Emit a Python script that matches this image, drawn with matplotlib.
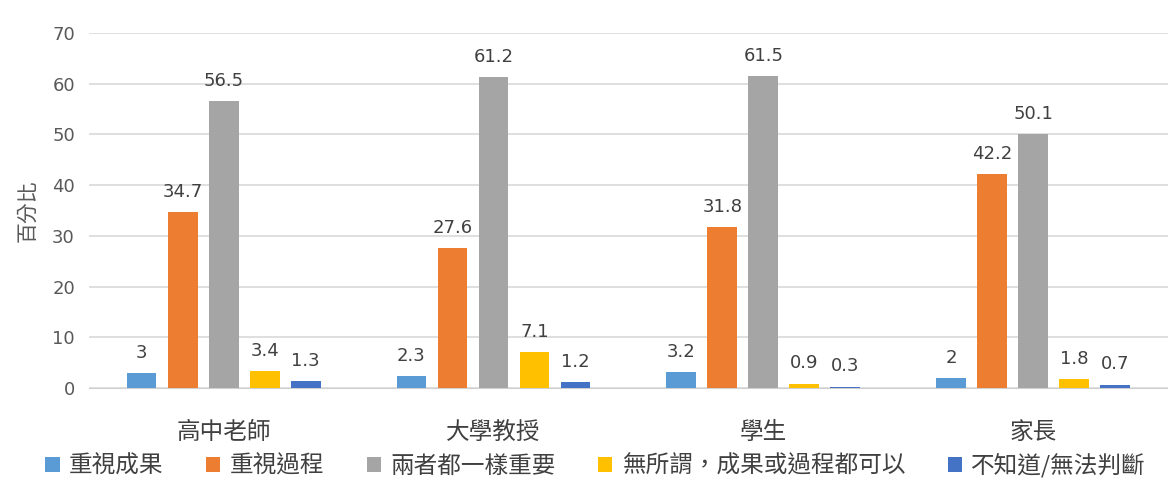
import numpy as np
import matplotlib
matplotlib.use('Agg')
import matplotlib.pyplot as plt

plt.rcParams['font.family'] = ['DejaVu Sans', 'Noto Sans CJK TC']

groups = ['高中老師', '大學教授', '學生', '家長']
series = ['重視成果', '重視過程', '兩者都一樣重要', '無所謂，成果或過程都可以', '不知道/無法判斷']
values = [
    [3, 2.3, 3.2, 2],
    [34.7, 27.6, 31.8, 42.2],
    [56.5, 61.2, 61.5, 50.1],
    [3.4, 7.1, 0.9, 1.8],
    [1.3, 1.2, 0.3, 0.7],
]
colors = ['#5B9BD5', '#ED7D31', '#A5A5A5', '#FFC000', '#4472C4']
cjk = ['Noto Sans CJK TC', 'DejaVu Sans']

fig = plt.figure(figsize=(11.68, 4.9), dpi=100, facecolor='w')
ax = fig.add_axes([0.076, 0.208, 0.924, 0.725])

x = np.arange(len(groups))
pitch = 0.152
width = 0.11
for i, (name, vals, c) in enumerate(zip(series, values, colors)):
    pos = x + (i - 2) * pitch
    ax.bar(pos, vals, width=width, color=c, label=name, zorder=3)
    for p, v in zip(pos, vals):
        ax.text(p, v + 2.2, ('%g' % v), ha='center', va='bottom', fontsize=13, color='#404040')

ax.set_xlim(-0.5, len(groups) - 0.5)
ax.set_ylim(0, 70)
ax.set_yticks(range(0, 71, 10))
ax.tick_params(axis='y', length=0, labelsize=13, labelcolor='#595959', pad=10)
ax.tick_params(axis='x', length=0, pad=24)
ax.set_xticks(x)
ax.set_xticklabels(groups, fontsize=17, color='#404040', family=cjk)
ax.grid(axis='y', color='#D9D9D9', linewidth=1.2, zorder=0)
for s in ['top', 'right', 'left']:
    ax.spines[s].set_visible(False)
ax.spines['bottom'].set_color('#D0D0D0')
ax.set_ylabel('百分比', fontsize=15, color='#595959', labelpad=10, family=cjk)

fig.legend(*ax.get_legend_handles_labels(), loc='center', bbox_to_anchor=(0.51, 0.05), ncol=5,
           frameon=False, prop={'family': cjk, 'size': 17}, handlelength=0.6, handleheight=0.6,
           columnspacing=1.8, handletextpad=0.4, labelcolor='#404040')

plt.savefig('out.png', dpi=100)
